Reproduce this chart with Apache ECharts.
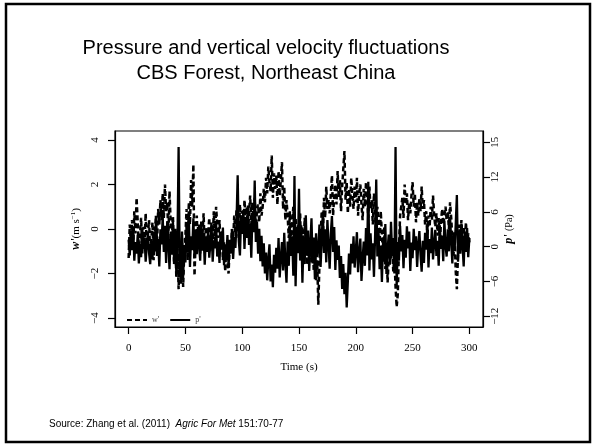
<!DOCTYPE html>
<html>
<head>
<meta charset="utf-8">
<script src="https://cdn.jsdelivr.net/npm/echarts@6/dist/echarts.min.js"></script>
<style>
  html, body { margin: 0; padding: 0; background: #fff; }
  #chart { width: 594px; height: 444px; }
</style>
</head>
<body>
<div id="chart"></div>
<script>
// vertical velocity fluctuation w' (m/s), one value per second, t = 0..300
const wPrime = [
  -1.3, 0.2, -0.6, 0.4, -0.9, 0.8, -0.2, 1.4, 0.3, -0.8,
  -0.3, 0.5, -1.1, 0.1, -0.6, 0.7, -0.9, -0.2, 0.4, -1.2,
  -0.5, 0.3, -1.4, -0.2, 0.6, -0.7, 0.9, 0.2, 1.3, 0.4,
  1.6, 0.5, 2.0, 0.8, 1.2, -0.4, 1.7, 0.3, -0.8, 0.6,
  -1.6, -0.3, -2.2, -0.9, -2.7, -1.1, -1.9, -0.4, -2.6, -1.0,
  -0.3, 0.9, -1.4, 1.2, 0.2, 2.2, 1.0, 2.9, -2.1, -0.5,
  0.6, -0.8, 0.2, -1.1, 0.4, -0.3, 0.7, -0.9, 0.1, -0.6,
  -0.2, 0.5, -1.0, 0.3, -0.5, 0.8, -0.7, 1.0, 0.2, -0.4,
  0.4, -0.9, -0.1, -1.4, -0.6, -1.9, -0.8, -1.5, -2.0, -0.7,
  -1.1, 0.0, -0.5, 0.6, -0.2, 0.9, 0.1, -0.4, 1.1, 0.3,
  0.8, -0.1, 1.3, 0.4, 1.0, -0.3, 0.7, 1.5, 0.2, 1.2,
  0.5, 1.4, -0.2, 0.9, 1.1, 0.3, 1.6, 0.6, 1.0, 1.8,
  1.2, 2.3, 1.6, 2.8, 2.1, 1.7, 3.3, 1.4, 2.5, 1.8,
  2.4, 1.1, 2.6, 1.5, 2.2, 3.0, 0.9, 1.9, 0.4, 1.3,
  0.6, -0.4, 0.8, -0.9, 0.3, 1.0, -0.2, 0.5, -0.7, 0.2,
  -0.5, 0.7, -1.2, 0.1, -0.8, 0.5, -0.4, -1.6, -0.6, -1.2,
  -0.6, -1.5, -0.4, -1.9, -0.8, -2.3, -1.4, -3.4, -1.6, -0.3,
  0.8, -0.4, 1.4, 0.5, 1.9, 0.9, 1.3, 0.7, 1.6, 2.4,
  0.6, 1.5, 2.0, 1.1, 2.6, 1.4, 2.2, 0.8, 1.9, 2.7,
  3.5, 1.3, 2.1, 0.7, 1.8, 1.0, 2.3, 1.5, 0.9, 1.9,
  1.2, 2.3, 0.6, 1.6, 2.0, 1.1, 0.4, 1.8, 1.0, 2.1,
  1.4, 0.5, 1.9, 0.9, 1.3, 0.2, 1.6, 0.7, -0.2, 1.0,
  0.3, -0.6, 0.8, -0.3, -1.2, 0.1, -1.8, -0.7, -2.4, -1.3,
  -0.5, -1.4, -0.8, -1.9, -1.2, -2.6, -3.5, -2.9, -0.9, 0.6,
  0.6, 1.4, 0.5, 2.0, 1.1, 1.6, 0.4, 1.2, 0.7, 1.5,
  2.1, 1.0, 1.6, 0.3, 1.2, 0.6, 1.4, 0.8, 1.9, 0.9,
  1.3, 0.2, 0.8, -0.4, 0.6, 0.1, 1.0, 0.4, 1.5, 0.6,
  0.1, 0.7, -0.3, 0.5, -0.6, 0.3, 0.9, 0.2, 0.6, 1.0,
  0.4, 0.8, 0.0, 1.2, 0.5, -0.4, -1.2, -0.3, -1.9, -2.7,
  -1.1, 0.2, -0.6, 0.4, -0.9, 0.1, -0.5, 0.3, -0.8, -0.2, -0.6
]

// pressure fluctuation p' (Pa), one value per second, t = 0..300
const pPrime = [
  1.2, -1.5, 2.8, -0.6, 3.5, -2.4, 0.8, -1.2, 2.1, -2.9,
  0.5, -1.8, 3.2, -0.4, 1.6, -2.6, 0.2, 2.4, -1.1, -3.0,
  0.9, -2.2, 2.6, -0.8, 4.1, -1.6, 1.3, -3.4, 3.0, 0.4,
  5.2, -0.9, 3.6, -2.8, 4.4, 0.7, -3.9, 2.2, -1.4, 4.6,
  -2.5, 3.1, -4.8, 1.0, 17.2, -3.2, -6.4, 2.6, -5.1, 0.3,
  -2.7, 3.8, -1.0, 5.4, -3.5, 1.8, -0.6, 4.9, -2.0, 2.7,
  -1.3, 3.4, 0.2, -2.4, 4.0, -0.7, 2.1, -3.1, 1.5, -0.9,
  2.9, -1.9, 0.6, 3.6, -2.6, 1.1, -0.3, 4.2, -1.7, 0.9,
  -2.8, 2.3, -0.5, 3.3, -3.2, 0.4, -1.8, 2.0, -3.6, 1.2,
  -0.8, 3.0, -2.1, 1.7, -0.2, 4.4, 12.3, 1.0, -1.5, 5.0,
  2.2, 6.3, -0.4, 4.8, 1.5, 7.1, 0.3, 3.9, -1.9, 5.6,
  2.5, 11.4, 0.8, 4.3, -1.2, 3.1, -2.5, 1.9, -3.4, 0.6,
  -4.6, -1.0, -5.8, -2.2, 0.4, -6.0, -3.1, -7.0, -1.4, -4.5,
  -0.2, -3.8, 1.5, -5.3, -1.9, 0.8, -4.1, 2.4, -2.7, -6.2,
  0.9, -3.3, 3.5, -1.6, 1.8, -5.0, 12.2, -6.8, 2.6, -1.1,
  10.0, -2.4, 3.7, -6.2, 1.2, -3.0, 5.4, -1.5, 2.8, -4.2,
  0.6, 4.9, -2.9, 1.6, -5.6, 2.3, -1.8, -0.6, 3.8, -3.5,
  1.3, 6.0, -1.1, 3.0, -2.7, 4.6, 0.5, -3.8, 2.2, 5.3,
  -0.9, 3.4, -4.0, 1.1, -2.3, 0.2, -5.4, -1.6, -7.3, -3.0,
  -8.2, -4.5, -10.5, -6.0, -1.2, -4.8, 0.5, -2.9, 1.8, -3.6,
  -0.7, 2.5, -4.4, -1.0, 1.4, -5.9, -2.1, 0.9, -3.3, 3.2,
  -1.5, 11.2, -4.1, 2.3, -2.2, 0.6, -5.2, 1.9, 11.6, -1.7,
  2.8, -3.9, 0.2, -6.1, 1.0, -2.6, 3.9, -4.7, -0.4, 2.1,
  -3.1, 4.3, -1.2, 1.5, -4.6, 17.2, -6.9, 0.8, -2.4, 3.6,
  -0.8, 2.0, -3.7, 1.2, -1.9, 3.5, -0.3, 2.6, -4.2, 0.7,
  -2.0, 3.1, -0.6, 1.8, -3.5, 0.4, 2.7, -1.4, -4.3, 1.0,
  -2.8, 2.4, -0.5, 4.0, -3.6, 1.3, -1.1, 3.3, -2.2, 0.6,
  2.9, -1.6, 1.0, -3.3, 3.7, -0.4, 1.9, -2.5, 4.5, 0.2,
  -1.7, 3.0, -0.8, 5.1, 1.2, -2.9, 2.5, -0.6, 4.0, 8.9,
  -2.6, 2.8, -1.2, 3.9, 0.1, -3.4, 2.3, -0.9, 3.2, -1.8, 1.5
]

const timeTicks = [0, 50, 100, 150, 200, 250, 300]
const wTicks = [-4, -2, 0, 2, 4]
const pTicks = [-12, -6, 0, 6, 12, 18]
const pTickLabels = ['\u221212', '\u22126', '0', '6', '12', '15']

const serif = 'Liberation Serif'
const sans = 'Liberation Sans'

const minusSign = v => (v < 0 ? '\u2212' + Math.abs(v) : String(v))

const chart = echarts.init(document.getElementById('chart'))

const tickStyle = { show: true, inside: false, length: 7, lineStyle: { color: '#000', width: 1.2 } }
const boxLine = { show: true, onZero: false, lineStyle: { color: '#000', width: 1.2 } }

const option = {
  backgroundColor: '#fff',
  animation: false,
  grid: {
    left: 115,
    top: 131,
    width: 368,
    height: 196,
    show: true,
    borderColor: '#000',
    borderWidth: 1.2
  },
  legend: {
    data: ["w'", "p'"],
    left: 121,
    top: 311,
    itemWidth: 20,
    itemHeight: 8,
    itemGap: 10,
    itemStyle: { opacity: 0 },
    textStyle: { fontFamily: serif, fontSize: 8, color: '#444' }
  },
  xAxis: {
    type: 'value',
    min: -12,
    max: 312,
    axisLine: boxLine,
    splitLine: { show: false },
    axisTick: { ...tickStyle, customValues: timeTicks },
    axisLabel: { customValues: timeTicks, margin: 16, fontFamily: serif, fontSize: 11, color: '#000' },
    name: 'Time (s)',
    nameLocation: 'middle',
    nameGap: 35,
    nameTextStyle: { fontFamily: serif, fontSize: 11, color: '#000' }
  },
  yAxis: [
    {
      type: 'value',
      position: 'left',
      min: -4.4,
      max: 4.4,
      axisLine: boxLine,
      splitLine: { show: false },
      axisTick: { ...tickStyle, customValues: wTicks },
      axisLabel: {
        customValues: wTicks,
        rotate: 90,
        margin: 14,
        fontFamily: serif,
        fontSize: 11,
        color: '#000',
        formatter: minusSign
      },
      name: "{b|w'}{n|(m s}{s|\u22121}{n|)}",
      nameLocation: 'middle',
      nameRotate: 90,
      nameGap: 32,
      nameTextStyle: {
        rich: {
          b: { fontFamily: serif, fontSize: 12, fontWeight: 'bold', fontStyle: 'italic', color: '#000' },
          n: { fontFamily: serif, fontSize: 11, color: '#000' },
          s: { fontFamily: serif, fontSize: 7, color: '#000', padding: [0, 0, 6, 0] }
        }
      }
    },
    {
      type: 'value',
      position: 'right',
      min: -13.85,
      max: 19.95,
      axisLine: boxLine,
      splitLine: { show: false },
      axisTick: { ...tickStyle, customValues: pTicks },
      axisLabel: {
        customValues: pTicks,
        rotate: 90,
        margin: 7,
        fontFamily: serif,
        fontSize: 11,
        color: '#000',
        formatter: v => pTickLabels[pTicks.indexOf(v)]
      },
      name: "{b|p'} {n|(Pa)}",
      nameLocation: 'middle',
      nameRotate: 90,
      nameGap: 20,
      nameMoveOverlap: false,
      nameTextStyle: {
        rich: {
          b: { fontFamily: serif, fontSize: 12, fontWeight: 'bold', fontStyle: 'italic', color: '#000' },
          n: { fontFamily: serif, fontSize: 10, color: '#000' }
        }
      }
    }
  ],
  series: [
    {
      name: "w'",
      type: 'line',
      yAxisIndex: 0,
      symbol: 'none',
      lineStyle: { color: '#000', width: 2.5, type: [5, 3] },
      itemStyle: { color: '#000' },
      data: wPrime.map((v, i) => [i, v])
    },
    {
      name: "p'",
      type: 'line',
      yAxisIndex: 1,
      symbol: 'none',
      lineStyle: { color: '#000', width: 2.3 },
      itemStyle: { color: '#000' },
      data: pPrime.map((v, i) => [i, v])
    }
  ],
  graphic: [
    {
      type: 'rect',
      shape: { x: 6, y: 4, width: 584, height: 438 },
      style: { fill: 'none', stroke: '#000', lineWidth: 2.5 }
    },
    {
      type: 'text',
      x: 266,
      y: 48,
      style: {
        text: 'Pressure and vertical velocity fluctuations',
        fontFamily: sans,
        fontSize: 20,
        fill: '#000',
        align: 'center',
        verticalAlign: 'middle'
      }
    },
    {
      type: 'text',
      x: 266,
      y: 73,
      style: {
        text: 'CBS Forest, Northeast China',
        fontFamily: sans,
        fontSize: 20,
        fill: '#000',
        align: 'center',
        verticalAlign: 'middle'
      }
    },
    {
      type: 'text',
      x: 49,
      y: 424,
      style: {
        text: '{n|Source: Zhang et al. (2011)  }{i|Agric For Met}{n| 151:70-77}',
        verticalAlign: 'middle',
        rich: {
          n: { fontFamily: sans, fontSize: 10, fill: '#000' },
          i: { fontFamily: sans, fontSize: 10, fontStyle: 'italic', fill: '#000' }
        }
      }
    }
  ]
}

chart.setOption(option)
</script>
</body>
</html>
